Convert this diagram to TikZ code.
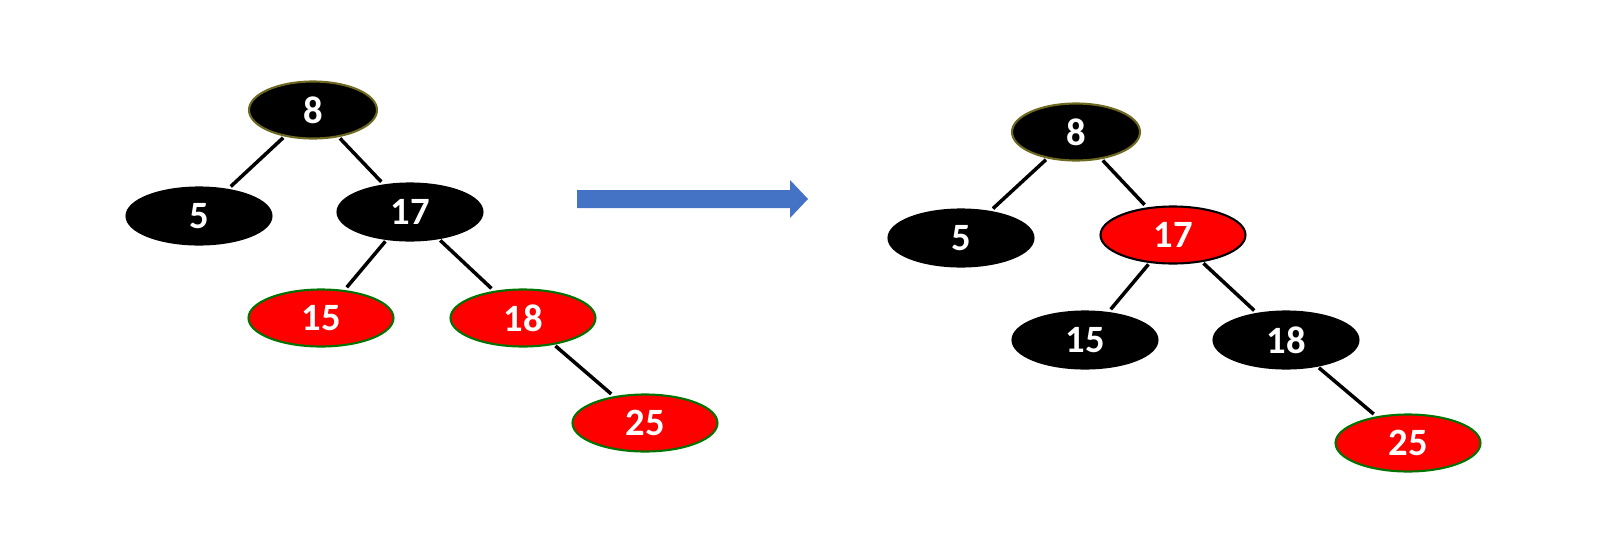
\documentclass[tikz,border=0pt]{standalone}
\usepackage{fontspec}
\setmainfont{Carlito}
\usetikzlibrary{positioning, shapes.geometric}

\definecolor{arrowblue}{HTML}{4472C4}
\tikzset{
  rbnode/.style={ellipse, inner sep=0pt, minimum width=2.9cm, minimum height=1.14cm,
    font=\fontsize{22}{26}\selectfont\bfseries, text=white, line width=1.2pt},
  blacknode/.style={rbnode, fill=black, draw=black},
  rednode/.style={rbnode, fill=red, draw=green!45!black},
  edge/.style={line width=2pt, shorten <=1pt, shorten >=2pt}
}

\begin{document}
\begin{tikzpicture}[x=0.02cm, y=-0.02cm]
      \useasboundingbox (0,0) rectangle (1607,538);
      % before
      \node[blacknode, minimum width=2.56cm, draw=olive!70!black] (a8) at (313,110) {8};
      \node[blacknode] (a5) at (199,216) {5};
      \node[blacknode] (a17) at (410,212) {17};
      \node[rednode] (a15) at (321,318) {15};
      \node[rednode] (a18) at (523,318) {18};
      \node[rednode] (a25) at (645,423) {25};
      \draw[edge] (a8) -- (a5);
      \draw[edge] (a8) -- (a17);
      \draw[edge] (a17) -- (a15);
      \draw[edge] (a17) -- (a18);
      \draw[edge] (a18) -- (a25);
      % arrow
      \fill[arrowblue] (577,190) -- (790,190) -- (790,180) -- (808,199)
        -- (790,218) -- (790,208) -- (577,208) -- cycle;
      % after
      \node[blacknode, minimum width=2.56cm, draw=olive!70!black] (b8) at (1076,132) {8};
      \node[blacknode] (b5) at (961,238) {5};
      \node[rednode, draw=black] (b17) at (1173,235) {17};
      \node[blacknode] (b15) at (1085,340) {15};
      \node[blacknode] (b18) at (1286,340) {18};
      \node[rednode] (b25) at (1408,443) {25};
      \draw[edge] (b8) -- (b5);
      \draw[edge] (b8) -- (b17);
      \draw[edge] (b17) -- (b15);
      \draw[edge] (b17) -- (b18);
      \draw[edge] (b18) -- (b25);
\end{tikzpicture}
\end{document}
